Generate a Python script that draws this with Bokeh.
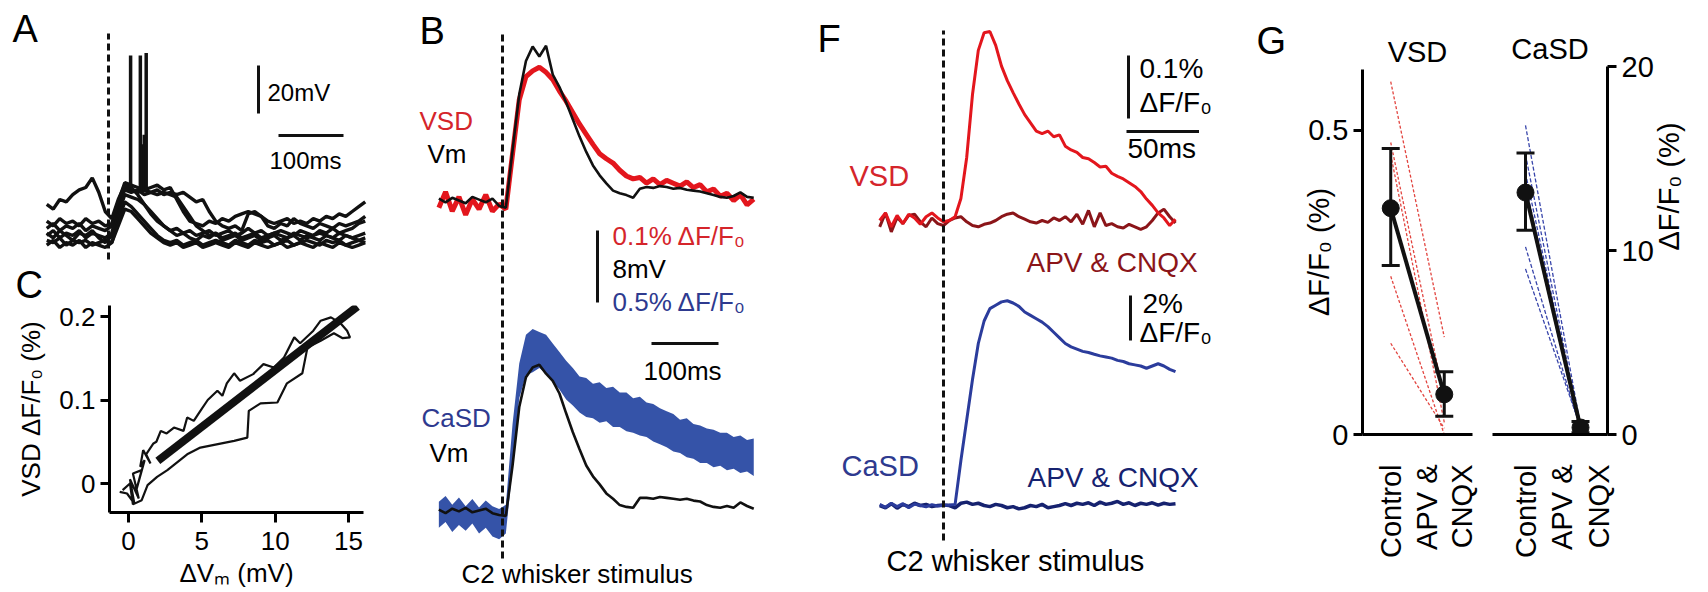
import math
from bokeh.plotting import figure
from bokeh.models import Range1d, Label, FixedTicker
from bokeh.layouts import row, column
from bokeh.embed import file_html
from bokeh.resources import INLINE

# ============================ DATA ============================
# Panel A: whole-cell Vm traces (mV), sampled every 10 ms, stimulus at 0 ms
a_time = list(range(-95, 400, 10))
a_trace1 = [-57, -59, -55, -56, -53, -51, -50, -46, -52, -60,
            -63, -55, -49, -50, -53, -57, -61, -64, -66, -68,
            -67, -69, -68, -70, -69, -68, -70, -69, -68, -70,
            -69, -67, -69, -68, -70, -69, -68, -69, -70, -68,
            -69, -70, -68, -69, -67, -69, -68, -67, -65, -64]
a_trace2 = [-64, -66, -63, -65, -64, -66, -63, -65, -64, -66,
            -65, -56, -48, -49, -50, -51, -50, -49, -51, -50,
            -55, -60, -64, -65, -66, -64, -65, -63, -64, -62,
            -61, -60, -61, -62, -64, -65, -64, -63, -65, -64,
            -65, -63, -64, -62, -63, -61, -62, -60, -58, -56]
a_trace3 = [-70, -68, -71, -69, -70, -68, -71, -69, -70, -71,
            -69, -58, -50, -51, -52, -51, -52, -53, -52, -53,
            -54, -58, -62, -66, -68, -70, -69, -71, -70, -69,
            -71, -70, -69, -71, -70, -69, -70, -71, -69, -70,
            -71, -70, -69, -70, -71, -69, -70, -71, -70, -69]
a_trace4 = [-72, -73, -71, -74, -72, -73, -72, -74, -73, -72,
            -73, -64, -56, -58, -61, -64, -67, -70, -72, -73,
            -72, -74, -73, -72, -74, -73, -72, -73, -74, -72,
            -73, -74, -72, -73, -72, -74, -73, -72, -74, -73,
            -72, -73, -74, -72, -73, -72, -74, -73, -72, -73]
a_trace5 = [-67, -65, -68, -66, -67, -65, -68, -66, -67, -68,
            -66, -57, -51, -52, -51, -53, -52, -51, -53, -52,
            -53, -52, -54, -56, -55, -60, -64, -66, -67, -66,
            -68, -61, -60, -62, -66, -67, -65, -66, -63, -65,
            -66, -67, -65, -66, -67, -65, -66, -65, -64, -62]
a_trace6 = [-74, -72, -75, -73, -74, -72, -75, -73, -74, -75,
            -73, -66, -59, -60, -63, -66, -69, -71, -73, -74,
            -73, -75, -74, -73, -75, -74, -73, -74, -75, -73,
            -74, -75, -73, -74, -75, -74, -73, -75, -74, -73,
            -74, -75, -73, -74, -75, -73, -74, -75, -74, -73]
a_trace7 = [-69, -71, -68, -70, -72, -69, -70, -68, -71, -73,
            -70, -61, -53, -54, -55, -57, -60, -63, -66, -68,
            -70, -69, -71, -72, -70, -71, -69, -72, -71, -70,
            -72, -71, -70, -72, -71, -70, -72, -71, -70, -72,
            -70, -71, -72, -70, -71, -72, -70, -71, -72, -71]
a_spike_time = [34, 49, 52, 55, 58]
a_spike_base = [-50, -51, -52, -52, -52]
a_spike_peak = [5, 5, -32, -28, 6]
a_scale_mv = 20
a_scale_ms = 100

# Panel C: VSD dF/F0 (%) against dVm (mV)
c_dvm = [-0.6, -0.1, 0.4, 0.1, 0.7, 0.3, 0.9, 0.5, 1.1, 0.8, 1.0, 1.5, 1.2, 1.7, 1.9,
         2.2, 2.6, 3.1, 3.75, 4.0, 4.45, 4.9, 5.4, 6.06, 6.4, 6.7, 7.2, 7.6, 8.5, 9.2,
         9.9, 10.6, 11.3, 11.7, 12.6, 13.1, 13.8, 14.45, 14.9, 15.1, 14.6, 14.0, 13.1, 12.2, 11.85,
         10.8, 10.15, 9.0, 8.2, 8.1, 7.2, 4.9, 4.0, 2.65, 1.95, 1.3, 0.9, 0.3, 0.1, -0.4]
c_vsd = [-0.01, -0.012, -0.024, 0.005, -0.018, 0.012, 0.016, -0.01, 0.028, 0.02, 0.04, 0.024, 0.035, 0.048, 0.05,
         0.063, 0.06, 0.067, 0.063, 0.079, 0.075, 0.087, 0.1, 0.111, 0.105, 0.12, 0.132, 0.123, 0.131, 0.143,
         0.139, 0.151, 0.175, 0.168, 0.183, 0.195, 0.199, 0.192, 0.183, 0.175, 0.174, 0.18, 0.171, 0.163, 0.132,
         0.12, 0.097, 0.096, 0.087, 0.055, 0.051, 0.043, 0.035, 0.016, 0.008, -0.002, -0.02, -0.025, 0.0, -0.008]
c_fit_dvm = [2.0, 15.6]
c_fit_vsd = [0.027, 0.212]
c_xticks = [0, 5, 10, 15]
c_yticks = [0, 0.1, 0.2]

# Panel B: Vm (mV), VSD and CaSD (% dF/F0), sampled every 10 ms
b_time = list(range(-95, 380, 10))
b_vm_top = [0.2, -0.2, 0.3, 0.0, -0.3, 0.4, 0.1, -0.2, 0.2, -0.6,
            -0.8, 5.6, 11.8, 15.5, 17.1, 16.0, 17.2, 14.0, 12.6, 10.9,
            9.0, 7.1, 5.4, 3.9, 2.8, 1.9, 1.1, 0.8, 0.6, 0.3,
            1.3, 1.5, 1.4, 1.6, 1.5, 1.3, 1.4, 1.2, 1.1, 1.0,
            0.8, 0.6, 0.4, 0.3, 0.5, 0.9, 0.4, 0.3]
b_vsd = [-0.01, 0.012, -0.015, 0.005, -0.02, 0.002, -0.012, 0.008, -0.015, -0.005,
         -0.012, 0.065, 0.14, 0.172, 0.18, 0.185, 0.178, 0.168, 0.152, 0.138,
         0.122, 0.106, 0.092, 0.078, 0.065, 0.058, 0.052, 0.042, 0.034, 0.03,
         0.032, 0.024, 0.03, 0.022, 0.028, 0.024, 0.02, 0.026, 0.018, 0.022,
         0.012, 0.016, 0.006, 0.01, 0.0, 0.008, -0.006, 0.002]
b_vm_bot = [0.1, -0.3, 0.2, -0.1, 0.3, -0.2, 0.0, 0.2, -0.3, -0.5,
            -0.6, 5.0, 11.5, 14.8, 15.9, 16.2, 15.2, 14.4, 13.0, 10.8,
            8.7, 6.8, 5.0, 3.8, 2.9, 1.9, 1.3, 0.6, 0.4, 0.3,
            1.4, 1.4, 1.3, 1.5, 1.4, 1.3, 1.2, 1.3, 1.1, 1.0,
            0.6, 0.4, 0.3, 0.5, 0.3, 0.9, 0.5, 0.2]
b_casd_hi = [0.06, 0.10, 0.04, 0.09, 0.03, 0.08, 0.02, 0.07, 0.03, 0.01,
             0.04, 0.6, 1.02, 1.22, 1.26, 1.24, 1.22, 1.16, 1.1, 1.04,
             0.99, 0.93, 0.92, 0.88, 0.89, 0.85, 0.86, 0.82, 0.82, 0.78,
             0.79, 0.75, 0.74, 0.71, 0.69, 0.67, 0.63, 0.64, 0.6, 0.59,
             0.57, 0.56, 0.54, 0.54, 0.51, 0.52, 0.49, 0.5]
b_casd_lo = [-0.12, -0.08, -0.15, -0.10, -0.14, -0.09, -0.16, -0.12, -0.18, -0.20,
             -0.16, 0.3, 0.78, 0.94, 0.96, 0.99, 0.95, 0.89, 0.84, 0.77,
             0.73, 0.68, 0.65, 0.64, 0.61, 0.62, 0.58, 0.58, 0.55, 0.54,
             0.52, 0.51, 0.48, 0.46, 0.44, 0.41, 0.4, 0.37, 0.36, 0.33,
             0.33, 0.3, 0.31, 0.28, 0.29, 0.26, 0.27, 0.24]
b_scale_mv = 8
b_scale_ms = 100

# Panel F: dF/F0 (%) sampled every 4 ms
f_time = list(range(-44, 161, 4))
f_vsd = [0.0, 0.012, -0.01, 0.008, -0.005, 0.01, 0.004, -0.006, 0.006, 0.012, 0.004,
         -0.002, 0.0, 0.006, 0.035, 0.1, 0.2, 0.27, 0.298, 0.3, 0.278,
         0.245, 0.222, 0.203, 0.185, 0.168, 0.155, 0.142, 0.138, 0.142, 0.133,
         0.136, 0.118, 0.112, 0.108, 0.1, 0.098, 0.092, 0.085, 0.086, 0.075,
         0.07, 0.066, 0.06, 0.054, 0.046, 0.034, 0.024, 0.012, 0.004, -0.008, 0.002]
f_vsd_apv = [-0.01, 0.012, -0.018, 0.005, -0.005, 0.008, 0.01, -0.002, -0.01, 0.004, -0.005,
             -0.008, 0.0, 0.004, 0.006, -0.002, -0.008, -0.01, -0.006, -0.004, 0.0,
             0.006, 0.01, 0.012, 0.006, 0.002, -0.002, -0.004, 0.0, -0.003, 0.004,
             0.0, 0.006, -0.002, 0.01, -0.006, 0.016, -0.01, 0.012, -0.008, -0.005,
             -0.01, -0.012, -0.006, -0.01, -0.014, -0.01, 0.0, 0.012, 0.018, 0.006, -0.004]
f_casd = [0.05, -0.08, 0.1, -0.05, 0.08, -0.1, 0.06, 0.0, -0.06, 0.04, -0.02,
          0.0, 0.02, 0.05, 2.0, 3.8, 5.6, 7.2, 8.2, 8.75, 8.9,
          9.05, 9.1, 9.0, 8.85, 8.6, 8.45, 8.3, 8.15, 7.95, 7.7,
          7.45, 7.2, 7.05, 6.95, 6.85, 6.8, 6.72, 6.65, 6.6, 6.55,
          6.45, 6.4, 6.3, 6.25, 6.2, 6.1, 6.2, 6.3, 6.2, 6.05, 5.95]
f_casd_apv = [0.0, -0.1, 0.08, -0.12, 0.05, -0.05, 0.1, 0.0, 0.05, -0.05, 0.0,
              0.02, 0.0, -0.1, 0.1, 0.15, 0.05, 0.1, 0.0, -0.05, 0.05,
              0.0, -0.1, -0.05, -0.15, -0.1, 0.0, -0.05, 0.05, -0.1, -0.05,
              0.0, 0.08, 0.0, 0.1, 0.05, 0.12, 0.0, 0.15, 0.05, 0.1,
              0.18, 0.05, 0.12, 0.0, 0.1, 0.05, 0.12, 0.02, 0.1, 0.05, 0.08]
f_scale_vsd = 0.1
f_scale_casd = 2
f_scale_ms = 50

# Panel G: dF/F0 (%) Control vs APV & CNQX
g_pos = [1, 2]
g_tick_pos = [1, 1.67, 2.33]
g_tick_text = ["Control", "APV &", "CNQX"]
g_vsd_control = [0.58, 0.48, 0.46, 0.26, 0.15]
g_vsd_drug = [0.16, 0.06, 0.02, 0.0, 0.01]
g_vsd_mean = [0.372, 0.066]
g_vsd_lo = [0.278, 0.03]
g_vsd_hi = [0.47, 0.103]
g_vsd_ticks = [0, 0.5]
g_cas_control = [16.8, 15.2, 14.2, 13.5, 10.2, 9.0]
g_cas_drug = [0.5, 0.3, 0.2, 0.6, 0.3, 0.4]
g_cas_mean = [13.15, 0.38]
g_cas_lo = [11.1, 0.1]
g_cas_hi = [15.3, 0.7]
g_cas_ticks = [0, 10, 20]

# ============================ STYLE / LAYOUT ============================
FONT = "Liberation Sans"
BLACK = "#111111"
RED = "#e3161d"
RED_TXT = "#d5252b"
DKRED = "#8b1519"
BLUE_B = "#3553a8"
BLUE = "#2b3c9c"
BLUE_TXT = "#2e3a8f"
DKBLUE = "#16226f"
INDIV_RED = "#e2443f"
INDIV_BLUE = "#3946ab"
H = 590  # total height in px (page origin at 0,0)


def lin(anchor_px, anchor_val, px_per_unit, flip=False):
    s = -1.0 if flip else 1.0
    return lambda p: anchor_val + s * (p - anchor_px) / px_per_unit


def no_grid(p):
    p.xgrid.grid_line_color = None
    p.ygrid.grid_line_color = None
    p.xgrid.visible = False
    p.ygrid.visible = False


def bare_fig(w, h, xr, yr):
    p = figure(width=w, height=h, x_range=xr, y_range=yr, output_backend="svg",
               toolbar_location=None, x_axis_location=None, y_axis_location=None,
               min_border=0, outline_line_color=None, frame_align=False,
               background_fill_color="white", border_fill_color="white")
    no_grid(p)
    return p


def put(p, fx, fy, px, py, text, size, color="black", align="left", angle=0.0):
    p.add_layout(Label(x=fx(px), y=fy(py), text=text, text_font=FONT,
                       text_font_size=f"{size}px", text_color=color,
                       text_align=align, text_baseline="middle", angle=angle))


def style_axis(ax, size, tick_out):
    ax.axis_line_width = 3
    ax.axis_line_color = "black"
    ax.major_tick_line_width = 3
    ax.major_tick_line_color = "black"
    ax.major_tick_in = 0
    ax.major_tick_out = tick_out
    ax.minor_tick_line_color = None
    ax.major_label_text_font = FONT
    ax.major_label_text_font_size = f"{size}px"
    ax.major_label_text_color = "black"
    ax.axis_label_text_font = FONT
    ax.axis_label_text_font_size = f"{size}px"
    ax.axis_label_text_font_style = "normal"
    ax.axis_label_text_color = "black"


def style_title(p, size, align, offset, standoff):
    p.title.text_font = FONT
    p.title.text_font_size = f"{size}px"
    p.title.text_font_style = "normal"
    p.title.text_color = "black"
    p.title.align = align
    p.title.offset = offset
    p.title.standoff = standoff


# ============================ PANEL A ============================
A_BOTTOM = 260
ax_ = lin(108, 0, 0.65)
ay_ = lin(235, -70, 2.4, flip=True)
pA = bare_fig(372, A_BOTTOM, Range1d(ax_(0), ax_(372)), Range1d(ay_(A_BOTTOM), ay_(0)))
for tr in [a_trace6, a_trace4, a_trace7, a_trace3, a_trace5, a_trace2, a_trace1]:
    pA.line(a_time, tr, line_color=BLACK, line_width=3.4)
pA.segment(x0=a_spike_time, y0=a_spike_base, x1=a_spike_time, y1=a_spike_peak,
           line_color=BLACK, line_width=3.5)
pA.segment(x0=[0], y0=[ay_(259)], x1=[0], y1=[ay_(33)], line_color=BLACK,
           line_width=3, line_dash="7 4")
pA.segment(x0=[ax_(258)], y0=[ay_(113)], x1=[ax_(258)], y1=[ay_(113) + a_scale_mv],
           line_color=BLACK, line_width=3)
pA.segment(x0=[ax_(278)], y0=[ay_(135)], x1=[ax_(278) + a_scale_ms], y1=[ay_(135)],
           line_color=BLACK, line_width=3)
put(pA, ax_, ay_, 12, 28, "A", 38)
put(pA, ax_, ay_, 267, 92, "20mV", 24)
put(pA, ax_, ay_, 269, 160, "100ms", 24)

# ============================ PANEL C ============================
C_FRAME_TOP = 305
cx = lin(128, 0, 14.67)
cy = lin(483, 0, 835, flip=True)
pC = figure(width=372, height=H - A_BOTTOM, x_range=Range1d(cx(109), cx(363)),
            y_range=Range1d(cy(512), cy(C_FRAME_TOP)), output_backend="svg",
            toolbar_location=None, outline_line_color=None, frame_align=False,
            min_border_left=109, min_border_right=9, min_border_top=C_FRAME_TOP - A_BOTTOM,
            min_border_bottom=H - 512, title="C",
            background_fill_color="white", border_fill_color="white")
no_grid(pC)
style_title(pC, 38, "left", -94, 0)
style_axis(pC.xaxis[0], 26, 10)
style_axis(pC.yaxis[0], 26, 9)
pC.xaxis.ticker = FixedTicker(ticks=c_xticks)
pC.yaxis.ticker = FixedTicker(ticks=c_yticks)
pC.xaxis.major_label_standoff = 9
pC.xaxis.axis_label_standoff = 5
pC.yaxis.axis_label_standoff = 10
pC.xaxis.axis_label = "ΔVₘ (mV)"
pC.yaxis.axis_label = "VSD ΔF/F₀ (%)"
pC.line(c_fit_dvm, c_fit_vsd, line_color=BLACK, line_width=8)
pC.line(c_dvm, c_vsd, line_color=BLACK, line_width=2.2)

# ============================ PANEL B ============================
bx = lin(502, 0, 0.67)
by_vm = lin(200, 0, 9, flip=True)
by_vsd = lin(200, 0, 720, flip=True)
by_vmb = lin(510, 0, 9, flip=True)
by_cas = lin(510, 0, 144, flip=True)
pB = bare_fig(403, H, Range1d(bx(372), bx(775)), Range1d(by_vm(H), by_vm(0)))
pB.extra_y_ranges = {"vsd": Range1d(by_vsd(H), by_vsd(0)),
                     "vmb": Range1d(by_vmb(H), by_vmb(0)),
                     "cas": Range1d(by_cas(H), by_cas(0))}
pB.line(b_time, b_vsd, y_range_name="vsd", line_color=RED, line_width=5)
pB.line(b_time, b_vm_top, line_color=BLACK, line_width=2.6)
pB.varea(x=b_time, y1=b_casd_lo, y2=b_casd_hi, y_range_name="cas", fill_color=BLUE_B)
pB.line(b_time, b_vm_bot, y_range_name="vmb", line_color=BLACK, line_width=2.6)
pB.segment(x0=[0], y0=[by_vm(558)], x1=[0], y1=[by_vm(32)], line_color=BLACK,
           line_width=3, line_dash="7 4")
pB.segment(x0=[bx(597)], y0=[by_vm(302)], x1=[bx(597)], y1=[by_vm(302) + b_scale_mv],
           line_color=BLACK, line_width=3)
pB.segment(x0=[bx(651)], y0=[by_vm(343)], x1=[bx(651) + b_scale_ms], y1=[by_vm(343)],
           line_color=BLACK, line_width=3)
put(pB, bx, by_vm, 419, 30, "B", 38)
put(pB, bx, by_vm, 419, 120, "VSD", 26, RED_TXT)
put(pB, bx, by_vm, 427, 153, "Vm", 26)
put(pB, bx, by_vm, 612, 235, "0.1% ΔF/F₀", 26, RED_TXT)
put(pB, bx, by_vm, 612, 268, "8mV", 26)
put(pB, bx, by_vm, 612, 301, "0.5% ΔF/F₀", 26, BLUE_TXT)
put(pB, bx, by_vm, 643, 370, "100ms", 26)
put(pB, bx, by_vm, 421, 417, "CaSD", 26, BLUE_TXT)
put(pB, bx, by_vm, 429, 452, "Vm", 26)
put(pB, bx, by_vm, 461, 573, "C2 whisker stimulus", 26)

# ============================ PANEL F (also holds the letter G) ============================
fx = lin(943, 0, 1.45)
fy_vsd = lin(220, 0, 630, flip=True)
fy_cas = lin(505, 0, 22.5, flip=True)
pF = bare_fig(525, H, Range1d(fx(775), fx(1300)), Range1d(fy_vsd(H), fy_vsd(0)))
pF.extra_y_ranges = {"cas": Range1d(fy_cas(H), fy_cas(0))}
pF.line(f_time, f_vsd_apv, line_color=DKRED, line_width=3)
pF.line(f_time, f_vsd, line_color=RED, line_width=3)
pF.line(f_time, f_casd_apv, y_range_name="cas", line_color=DKBLUE, line_width=3.5)
pF.line(f_time, f_casd, y_range_name="cas", line_color=BLUE, line_width=3)
pF.segment(x0=[0], y0=[fy_vsd(540)], x1=[0], y1=[fy_vsd(30)], line_color=BLACK,
           line_width=3, line_dash="7 4")
pF.segment(x0=[fx(1128)], y0=[fy_vsd(118)], x1=[fx(1128)], y1=[fy_vsd(118) + f_scale_vsd],
           line_color=BLACK, line_width=3)
pF.segment(x0=[fx(1126)], y0=[fy_vsd(131)], x1=[fx(1126) + f_scale_ms], y1=[fy_vsd(131)],
           line_color=BLACK, line_width=3)
pF.segment(x0=[fx(1130)], y0=[fy_cas(340)], x1=[fx(1130)], y1=[fy_cas(340) + f_scale_casd],
           y_range_name="cas", line_color=BLACK, line_width=3)
put(pF, fx, fy_vsd, 817, 38, "F", 38)
put(pF, fx, fy_vsd, 849, 175, "VSD", 29, RED_TXT)
put(pF, fx, fy_vsd, 1026, 262, "APV & CNQX", 28, DKRED)
put(pF, fx, fy_vsd, 1139, 68, "0.1%", 28)
put(pF, fx, fy_vsd, 1139, 102, "ΔF/F₀", 28)
put(pF, fx, fy_vsd, 1127, 148, "50ms", 28)
put(pF, fx, fy_vsd, 1142, 303, "2%", 28)
put(pF, fx, fy_vsd, 1139, 332, "ΔF/F₀", 28)
put(pF, fx, fy_vsd, 841, 465, "CaSD", 29, BLUE_TXT)
put(pF, fx, fy_vsd, 1027, 477, "APV & CNQX", 28, DKBLUE)
put(pF, fx, fy_vsd, 886, 560, "C2 whisker stimulus", 29)
put(pF, fx, fy_vsd, 1256, 40, "G", 38)

# ============================ PANEL G ============================
tick_overrides = {t: s for t, s in zip(g_tick_pos, g_tick_text)}


def g_fig(w, xr, yr, left, right, top, yloc, title, title_offset):
    p = figure(width=w, height=H, x_range=xr, y_range=yr, output_backend="svg",
               toolbar_location=None, outline_line_color=None, y_axis_location=yloc,
               min_border_left=left, min_border_right=right, min_border_top=top,
               min_border_bottom=H - 434, background_fill_color="white",
               border_fill_color="white", frame_align=False, title=title)
    no_grid(p)
    style_title(p, 29, "center", title_offset, 4)
    style_axis(p.xaxis[0], 29, 0)
    style_axis(p.yaxis[0], 29, 9)
    p.xaxis.ticker = FixedTicker(ticks=g_tick_pos)
    p.xaxis.major_label_overrides = tick_overrides
    p.xaxis.major_label_orientation = math.pi / 2
    p.xaxis.major_tick_line_color = None
    p.xaxis.major_label_standoff = 30
    p.yaxis.axis_label = "ΔF/F₀ (%)"
    return p


gx = lin(1388, 1, 55)
pGL = g_fig(182, Range1d(gx(1359), gx(1472)), Range1d(0, 0.6), 59, 10, 69, "left", "VSD", -3)
pGL.yaxis.ticker = FixedTicker(ticks=g_vsd_ticks)
pGL.yaxis.axis_label_standoff = -30
pGL.multi_line(xs=[g_pos for _ in g_vsd_control],
               ys=[[a, b] for a, b in zip(g_vsd_control, g_vsd_drug)],
               line_color=INDIV_RED, line_width=1.3, line_dash="3 2")
pGL.line(g_pos, g_vsd_mean, line_color=BLACK, line_width=4)
pGL.segment(x0=g_pos, y0=g_vsd_lo, x1=g_pos, y1=g_vsd_hi, line_color=BLACK, line_width=3)
pGL.scatter(g_pos * 2, g_vsd_lo + g_vsd_hi, marker="dash", size=18, line_width=3,
            line_color=BLACK)
pGL.scatter(g_pos, g_vsd_mean, size=17, color=BLACK)

grx = lin(1525, 1, 55)
pGR = g_fig(224, Range1d(grx(1492), grx(1607)), Range1d(0, 20), 10, 99, 66, "right", "CaSD", 9)
pGR.yaxis.ticker = FixedTicker(ticks=g_cas_ticks)
pGR.yaxis.axis_label_orientation = math.pi / 2
pGR.yaxis.axis_label_standoff = 12
pGR.multi_line(xs=[g_pos for _ in g_cas_control],
               ys=[[a, b] for a, b in zip(g_cas_control, g_cas_drug)],
               line_color=INDIV_BLUE, line_width=1.3, line_dash="4 2")
pGR.line(g_pos, g_cas_mean, line_color=BLACK, line_width=4)
pGR.segment(x0=g_pos, y0=g_cas_lo, x1=g_pos, y1=g_cas_hi, line_color=BLACK, line_width=3)
pGR.scatter(g_pos * 2, g_cas_lo + g_cas_hi, marker="dash", size=18, line_width=3,
            line_color=BLACK)
pGR.scatter(g_pos, g_cas_mean, size=17, color=BLACK)

layout = row(column(pA, pC), pB, pF, pGL, pGR)
open("out.html", "w").write(file_html(layout, INLINE))
